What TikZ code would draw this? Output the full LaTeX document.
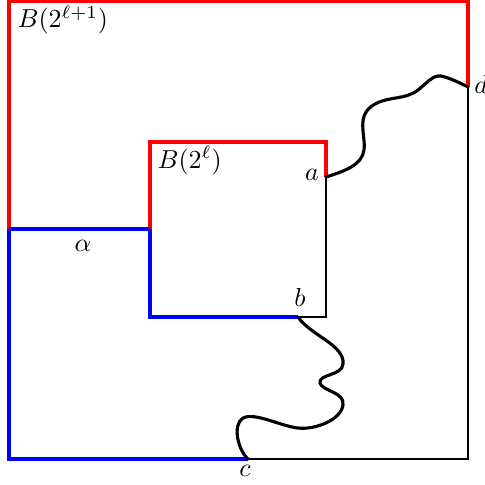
\documentclass[tikz,border=0pt]{standalone}
\begin{document}
\begin{tikzpicture}[x=0.385pt,y=-0.385pt,
  redl/.style={red,line width=1.2pt},
  bluel/.style={blue,line width=1.2pt},
  thinl/.style={black,line width=0.6pt},
  curvel/.style={black,line width=1.2pt,line cap=round},
  lbl/.style={inner sep=0pt}]
\useasboundingbox (0,0) rectangle (485,484);
% corners
\coordinate (TL) at (9,1);
\coordinate (TR) at (468,1);
\coordinate (d) at (468,87);
\coordinate (BR) at (468,459);
\coordinate (c) at (248,459);
\coordinate (BL) at (9,459);
\coordinate (al) at (9,229);
\coordinate (ar) at (150,229);
\coordinate (itl) at (150,142);
\coordinate (itr) at (326,142);
\coordinate (a) at (326,177);
\coordinate (ibr) at (326,317);
\coordinate (b) at (298,317);
\coordinate (ibl) at (150,317);
% thin black
\draw[thinl] (d) -- (BR) -- (c);
\draw[thinl] (a) -- (ibr) -- (b);
% red
\draw[redl] (al) -- (TL) -- (TR) -- (d);
\draw[redl] (ar) -- (itl) -- (itr) -- (a);
% blue
\draw[bluel] (al) -- (ar);
\draw[bluel] (al) -- (BL) -- (c);
\draw[bluel] (ar) -- (ibl) -- (b);
% curves
\draw[curvel] (a) .. controls (345,171) and (362,165) .. (364,150)
  .. controls (366,135) and (355,115) .. (375,104)
  .. controls (390,96) and (405,100) .. (418,90)
  .. controls (428,82) and (433,75) .. (441,76)
  .. controls (450,78) and (460,83) .. (d);
\draw[curvel] (b) .. controls (310,335) and (345,345) .. (343,364)
  .. controls (342,376) and (318,374) .. (320,383)
  .. controls (322,391) and (345,392) .. (343,405)
  .. controls (341,420) and (315,430) .. (298,428)
  .. controls (280,426) and (255,412) .. (243,418)
  .. controls (232,425) and (238,450) .. (c);
% labels
\node[lbl,anchor=base west] (L1) at (17,28) {$B(2^{\ell+1})$};
\node[lbl,anchor=base west] (L2) at (157,168) {$B(2^{\ell})$};
\node[lbl,anchor=base] (La) at (312,180) {$a$};
\node[lbl,anchor=base] (Lb) at (300,306) {$b$};
\node[lbl,anchor=base] (Lc) at (245,476) {$c$};
\node[lbl,anchor=base] (Ld) at (481,93) {$d$};
\node[lbl,anchor=base] (Lal) at (83,251) {$\alpha$};
\end{tikzpicture}
\end{document}
